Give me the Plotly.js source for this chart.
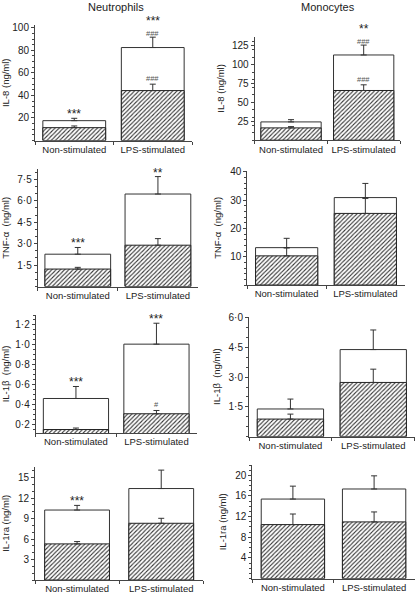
<!DOCTYPE html>
<html><head><meta charset="utf-8">
<script src="https://cdn.plot.ly/plotly-3.0.1.min.js"></script>
<style>html,body{margin:0;padding:0;background:#fff}#chart{width:416px;height:593px}</style>
</head><body><div id="chart"></div>
<script>
// ---------- data ----------
const categories = ["Non-stimulated", "LPS-stimulated"];
const columnTitles = ["Neutrophils", "Monocytes"];
const yTitles = ["IL-8 (ng/ml)", "TNF-α  (ng/ml)", "IL-1β  (ng/ml)", "IL-1ra (ng/ml)"];

// Neutrophils IL-8
const neuIL8Open = [17.6, 82.5];   const neuIL8OpenErr = [2.1, 9.2];
const neuIL8Hatch = [11.4, 44.3];  const neuIL8HatchErr = [1.5, 5.7];
const neuIL8Sig1 = ["***", "###"]; const neuIL8Sig2 = ["", "***"]; const neuIL8SigHatch = ["", "###"];
const neuIL8Ticks = [20, 40, 60, 80, 100];
const neuIL8TickText = ["20", "40", "60", "80", "100"];

// Monocytes IL-8
const monoIL8Open = [24.2, 112.8];  const monoIL8OpenErr = [3.0, 13.1];
const monoIL8Hatch = [16.3, 65.8];  const monoIL8HatchErr = [1.7, 7.5];
const monoIL8Sig1 = ["", "###"]; const monoIL8Sig2 = ["", "**"]; const monoIL8SigHatch = ["", "###"];
const monoIL8Ticks = [25, 50, 75, 100, 125];
const monoIL8TickText = ["25", "50", "75", "100", "125"];

// Neutrophils TNF-alpha
const neuTNFOpen = [2.26, 6.47];  const neuTNFOpenErr = [0.47, 1.22];
const neuTNFHatch = [1.22, 2.89]; const neuTNFHatchErr = [0.12, 0.46];
const neuTNFSig1 = ["***", "**"]; const neuTNFSig2 = ["", ""]; const neuTNFSigHatch = ["", ""];
const neuTNFTicks = [1.5, 3, 4.5, 6, 7.5];
const neuTNFTickText = ["1·5", "3·0", "4·5", "6·0", "7·5"];

// Monocytes TNF-alpha
const monoTNFOpen = [13.2, 30.9];  const monoTNFOpenErr = [3.3, 5.0];
const monoTNFHatch = [10.3, 25.3]; const monoTNFHatchErr = [2.8, 5.3];
const monoTNFSig1 = ["", ""]; const monoTNFSig2 = ["", ""]; const monoTNFSigHatch = ["", ""];
const monoTNFTicks = [10, 20, 30, 40];
const monoTNFTickText = ["10", "20", "30", "40"];

// Neutrophils IL-1beta
const neuIL1bOpen = [0.458, 1.006];  const neuIL1bOpenErr = [0.121, 0.211];
const neuIL1bHatch = [0.145, 0.304]; const neuIL1bHatchErr = [0.015, 0.033];
const neuIL1bSig1 = ["***", "***"]; const neuIL1bSig2 = ["", ""]; const neuIL1bSigHatch = ["", "#"];
const neuIL1bTicks = [0.2, 0.4, 0.6, 0.8, 1.0, 1.2];
const neuIL1bTickText = ["0·2", "0·4", "0·6", "0·8", "1·0", "1·2"];

// Monocytes IL-1beta
const monoIL1bOpen = [1.39, 4.39];  const monoIL1bOpenErr = [0.50, 0.99];
const monoIL1bHatch = [0.88, 2.73]; const monoIL1bHatchErr = [0.25, 0.67];
const monoIL1bSig1 = ["", ""]; const monoIL1bSig2 = ["", ""]; const monoIL1bSigHatch = ["", ""];
const monoIL1bTicks = [1.5, 3, 4.5, 6];
const monoIL1bTickText = ["1·5", "3·0", "4·5", "6·0"];

// Neutrophils IL-1ra
const neuIL1raOpen = [10.25, 13.4]; const neuIL1raOpenErr = [0.68, 2.7];
const neuIL1raHatch = [5.29, 8.31]; const neuIL1raHatchErr = [0.34, 0.73];
const neuIL1raSig1 = ["***", ""]; const neuIL1raSig2 = ["", ""]; const neuIL1raSigHatch = ["", ""];
const neuIL1raTicks = [3, 6, 9, 12, 15];
const neuIL1raTickText = ["3", "6", "9", "12", "15"];

// Monocytes IL-1ra
const monoIL1raOpen = [15.4, 17.35];  const monoIL1raOpenErr = [2.5, 2.55];
const monoIL1raHatch = [10.45, 10.97]; const monoIL1raHatchErr = [2.05, 1.93];
const monoIL1raSig1 = ["", ""]; const monoIL1raSig2 = ["", ""]; const monoIL1raSigHatch = ["", ""];
const monoIL1raTicks = [4, 8, 12, 16, 20];
const monoIL1raTickText = ["4", "8", "12", "16", "20"];

// ---------- layout geometry (pixels) ----------
const W = 416, H = 593;
const panels = [
  {open: neuIL8Open, openErr: neuIL8OpenErr, hatch: neuIL8Hatch, hatchErr: neuIL8HatchErr, s1: neuIL8Sig1, s2: neuIL8Sig2, sh: neuIL8SigHatch, tv: neuIL8Ticks, tt: neuIL8TickText, title: yTitles[0], box: [35, 192, 25, 140.5], yr: [0, 102.5], bw: 0.8, so: 3},
  {open: monoIL8Open, openErr: monoIL8OpenErr, hatch: monoIL8Hatch, hatchErr: monoIL8HatchErr, s1: monoIL8Sig1, s2: monoIL8Sig2, sh: monoIL8SigHatch, tv: monoIL8Ticks, tt: monoIL8TickText, title: yTitles[0], box: [254.7, 400, 36.7, 140.2], yr: [0, 137], bw: 0.83, so: 5},
  {open: neuTNFOpen, openErr: neuTNFOpenErr, hatch: neuTNFHatch, hatchErr: neuTNFHatchErr, s1: neuTNFSig1, s2: neuTNFSig2, sh: neuTNFSigHatch, tv: neuTNFTicks, tt: neuTNFTickText, title: yTitles[1], box: [37.7, 198, 169.3, 286.5], yr: [0, 8.2], bw: 0.82, so: 5},
  {open: monoTNFOpen, openErr: monoTNFOpenErr, hatch: monoTNFHatch, hatchErr: monoTNFHatchErr, s1: monoTNFSig1, s2: monoTNFSig2, sh: monoTNFSigHatch, tv: monoTNFTicks, tt: monoTNFTickText, title: yTitles[1], box: [247.3, 404.7, 170.7, 285], yr: [0, 40.4], bw: 0.79, so: 6},
  {open: neuIL1bOpen, openErr: neuIL1bOpenErr, hatch: neuIL1bHatch, hatchErr: neuIL1bHatchErr, s1: neuIL1bSig1, s2: neuIL1bSig2, sh: neuIL1bSigHatch, tv: neuIL1bTicks, tt: neuIL1bTickText, title: yTitles[2], box: [35.7, 196.7, 315, 433], yr: [0.11, 1.3], bw: 0.81, so: 5},
  {open: monoIL1bOpen, openErr: monoIL1bOpenErr, hatch: monoIL1bHatch, hatchErr: monoIL1bHatchErr, s1: monoIL1bSig1, s2: monoIL1bSig2, sh: monoIL1bSigHatch, tv: monoIL1bTicks, tt: monoIL1bTickText, title: yTitles[2], box: [249, 414.7, 316.7, 436.5], yr: [0, 6.05], bw: 0.8, so: 6},
  {open: neuIL1raOpen, openErr: neuIL1raOpenErr, hatch: neuIL1raHatch, hatchErr: neuIL1raHatchErr, s1: neuIL1raSig1, s2: neuIL1raSig2, sh: neuIL1raSigHatch, tv: neuIL1raTicks, tt: neuIL1raTickText, title: yTitles[3], box: [35, 203.3, 466.7, 580], yr: [0, 16.6], bw: 0.77, so: 6},
  {open: monoIL1raOpen, openErr: monoIL1raOpenErr, hatch: monoIL1raHatch, hatchErr: monoIL1raHatchErr, s1: monoIL1raSig1, s2: monoIL1raSig2, sh: monoIL1raSigHatch, tv: monoIL1raTicks, tt: monoIL1raTickText, title: yTitles[3], box: [252.3, 414.7, 465, 578.5], yr: [0, 22], bw: 0.78, so: 6}
];

const FONT = "Liberation Sans, Arial, Helvetica, sans-serif";
const INK = "#222";
const AXC = "#444";
const traces = [];
const annotations = [];
const layout = {
  width: W, height: H,
  margin: {l: 0, r: 0, t: 0, b: 0},
  paper_bgcolor: "#fff", plot_bgcolor: "#fff",
  barmode: "overlay",
  showlegend: false,
  font: {family: FONT, color: INK, size: 10}
};

panels.forEach((p, i) => {
  const n = i + 1;
  const xa = "x" + (n === 1 ? "" : n), ya = "y" + (n === 1 ? "" : n);
  const xk = "xaxis" + (n === 1 ? "" : n), yk = "yaxis" + (n === 1 ? "" : n);
  const [x0, x1, yt, yb] = p.box;
  const zeros = p.open.map(() => 0);
  traces.push({
    type: "bar", x: categories, y: p.open, xaxis: xa, yaxis: ya, width: p.bw,
    marker: {color: "#fff", line: {color: "#333", width: 1}},
    error_y: {type: "data", array: p.openErr, arrayminus: zeros, symmetric: false, color: "#333", thickness: 1, width: 3},
    hoverinfo: "y"
  });
  traces.push({
    type: "bar", x: categories, y: p.hatch, xaxis: xa, yaxis: ya, width: p.bw,
    marker: {color: "#fff", line: {color: "#222", width: 1},
             pattern: {shape: "/", fgcolor: "#333", bgcolor: "#fff", size: 3, solidity: 0.35}},
    error_y: {type: "data", array: p.hatchErr, arrayminus: zeros, symmetric: false, color: "#333", thickness: 1, width: 3},
    hoverinfo: "y"
  });
  layout[xk] = {
    domain: [x0 / W, x1 / W], anchor: ya, type: "category", range: [-0.5, 1.5],
    showline: true, linecolor: AXC, linewidth: 1, ticks: "outside", tickson: "boundaries",
    ticklen: 3, tickcolor: AXC, showgrid: false, zeroline: false, tickangle: 0,
    tickfont: {size: 9.5, color: INK, family: FONT}, fixedrange: true
  };
  layout[yk] = {
    domain: [1 - yb / H, 1 - yt / H], anchor: xa, range: p.yr,
    showline: true, linecolor: AXC, linewidth: 1, ticks: "outside", ticklen: 3, tickcolor: AXC,
    tickvals: p.tv, ticktext: p.tt, showgrid: false, zeroline: false,
    minor: {ticks: "outside", ticklen: 2, tickcolor: AXC, showgrid: false},
    tickfont: {size: 10, color: INK, family: FONT},
    title: {text: p.title, font: {size: 9.5, color: INK, family: FONT}, standoff: p.so},
    automargin: false, fixedrange: true
  };
  // significance marks
  categories.forEach((c, j) => {
    const topOpen = p.open[j] + p.openErr[j];
    const topHatch = p.hatch[j] + p.hatchErr[j];
    const mk = (txt, yv, shift) => {
      if (!txt) return;
      const isHash = txt.indexOf("#") >= 0;
      annotations.push({
        xref: xa, yref: ya, x: c, y: yv, text: txt, showarrow: false,
        yanchor: "bottom", yshift: shift, borderpad: 0,
        font: {size: isHash ? 7.5 : 12, color: isHash ? "#555" : INK, family: FONT}
      });
    };
    const s1 = p.s1[j];
    mk(s1, topOpen, s1.indexOf("#") >= 0 ? -2 : -4);
    mk(p.s2[j], topOpen, 8);
    mk(p.sh[j], topHatch, 0);
  });
});

// column titles
columnTitles.forEach((t, k) => {
  annotations.push({
    xref: "paper", yref: "paper", x: (k === 0 ? 115.5 : 328) / W, y: 1 - 7 / H,
    text: t, showarrow: false, xanchor: "center", yanchor: "middle",
    font: {size: 11, color: INK, family: FONT}
  });
});
layout.annotations = annotations;

Plotly.newPlot("chart", traces, layout, {staticPlot: true, displayModeBar: false});
</script>
</body></html>
